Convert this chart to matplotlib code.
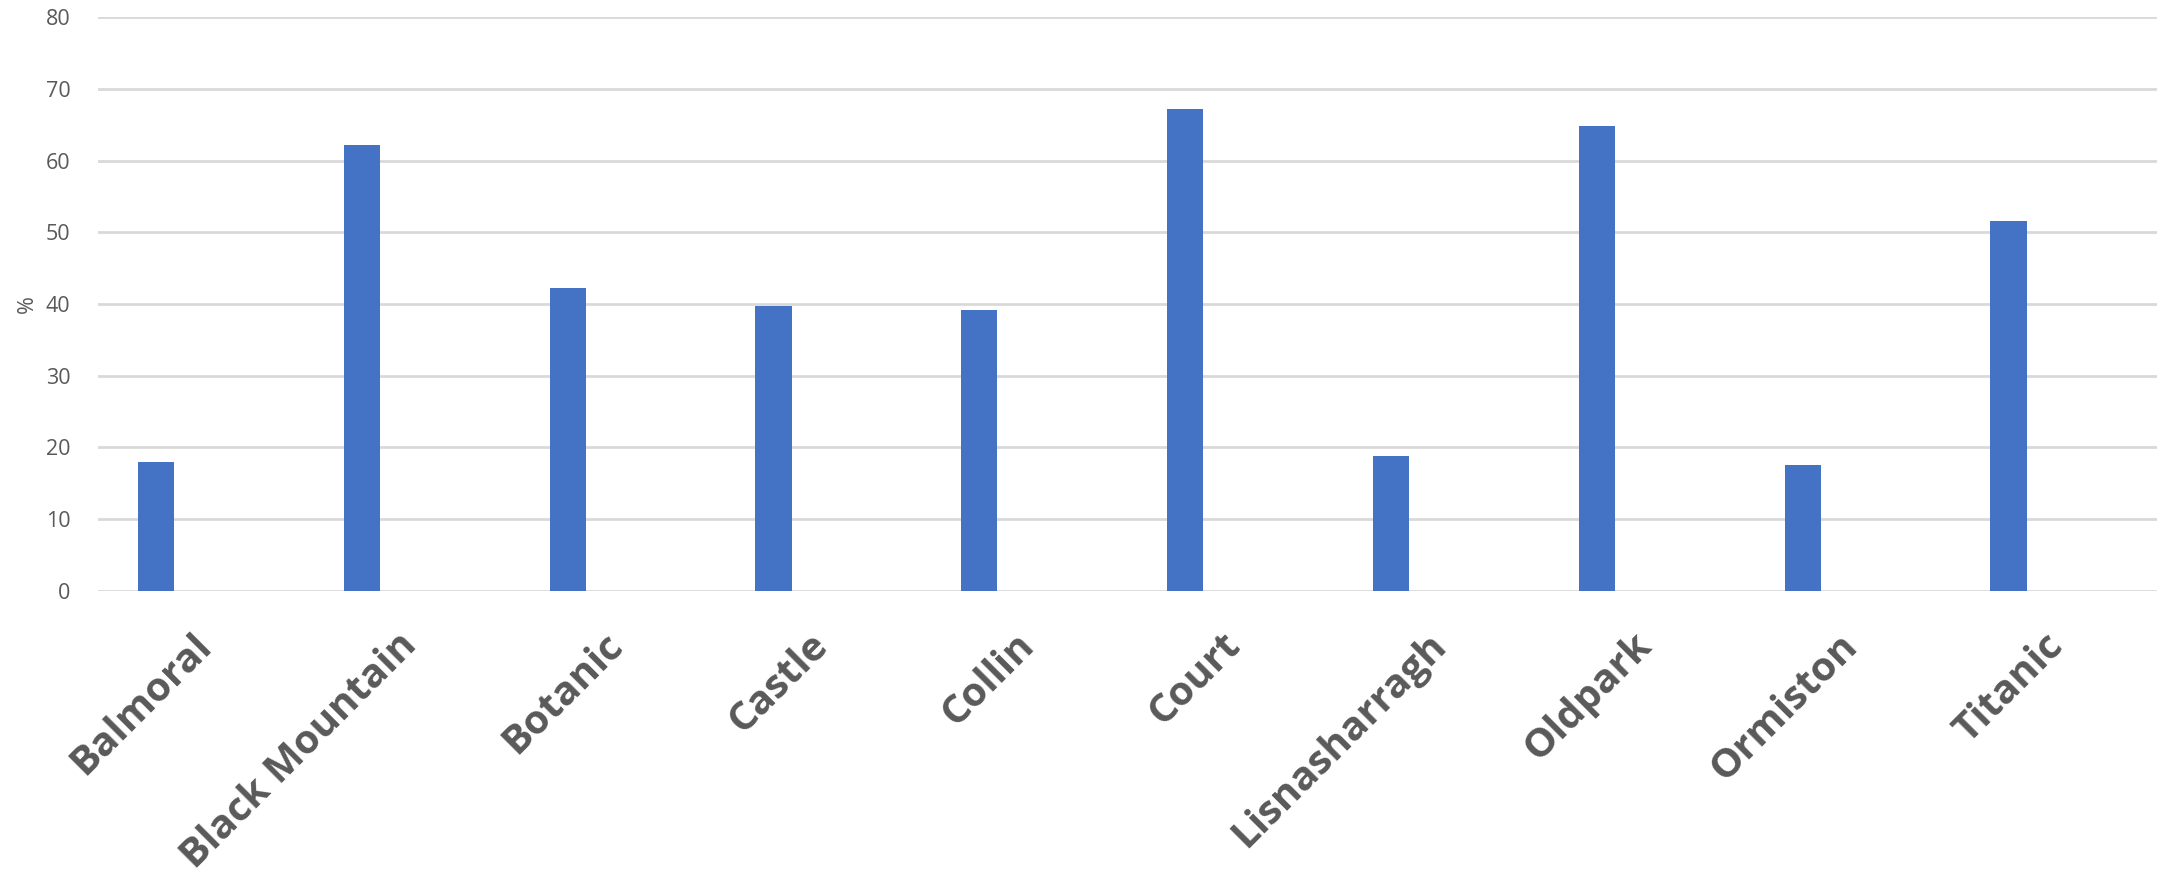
import matplotlib
matplotlib.use("Agg")
import matplotlib.pyplot as plt
import matplotlib.transforms as mtransforms
import numpy as np

categories = ["Balmoral", "Black Mountain", "Botanic", "Castle", "Collin",
              "Court", "Lisnasharragh", "Oldpark", "Ormiston", "Titanic"]
values = [18.0, 62.2, 42.3, 39.7, 39.1, 67.2, 18.8, 64.8, 17.5, 51.6]
yticks = [0, 10, 20, 30, 40, 50, 60, 70, 80]

plt.rcParams['font.family'] = ['Open Sans', 'DejaVu Sans']
text_color = "#595959"
bar_color = "#4472C4"
grid_color = "#D9D9D9"

W, H = 2163, 874
fig = plt.figure(figsize=(W / 100, H / 100), dpi=100)
left, right = 98.3 / W, 2156.7 / W
bottom, top = (H - 590.7) / H, (H - 17.3) / H
ax = fig.add_axes([left, bottom, right - left, top - bottom])

x = np.arange(len(categories))
ax.bar(x - 0.22, values, width=0.176, color=bar_color, zorder=3)

ax.set_xlim(-0.5, len(categories) - 0.5)
ax.set_ylim(0, 80)
ax.set_yticks(yticks)
ax.set_yticklabels([str(v) for v in yticks], fontsize=15.5, color=text_color)
ax.yaxis.grid(True, color=grid_color, linewidth=2, zorder=0)
ax.tick_params(axis='y', length=0, pad=20)
ax.tick_params(axis='x', length=0)
for s in ax.spines.values():
    s.set_visible(False)

ax.set_xticks(x)
ax.set_xticklabels(categories, rotation=45, ha='right', va='center',
                   rotation_mode='anchor', fontsize=29, fontweight='bold',
                   color=text_color)
offset = mtransforms.ScaledTranslation(0.04, -0.44, fig.dpi_scale_trans)
for lbl in ax.get_xticklabels():
    lbl.set_transform(lbl.get_transform() + offset)

ax.set_ylabel("%", fontsize=15.5, color=text_color)
ax.yaxis.set_label_coords(-60 / (2156.7 - 98.3), 0.5)

fig.savefig("out.png", dpi=100, facecolor="white")
